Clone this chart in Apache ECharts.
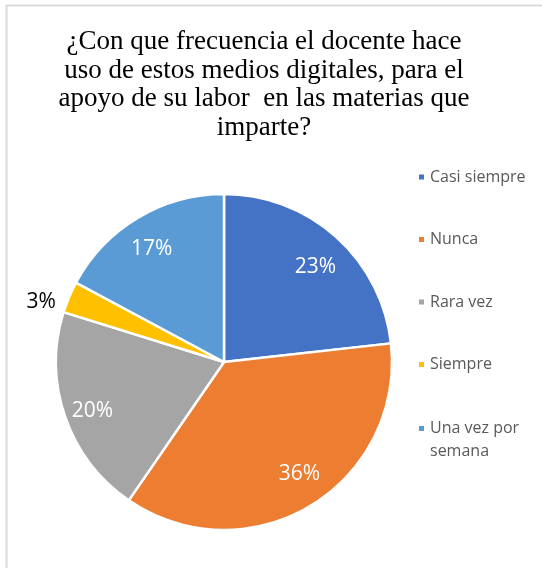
<!DOCTYPE html>
<html>
<head>
<meta charset="utf-8">
<script src="https://cdn.jsdelivr.net/npm/echarts@6/dist/echarts.min.js"></script>
<style>
  html, body { margin: 0; padding: 0; background: #fff; }
  #main { width: 542px; height: 568px; }
</style>
</head>
<body>
<div id="main"></div>
<script>
// datos de la encuesta (porcentajes)
const categorias = ['Casi siempre', 'Nunca', 'Rara vez', 'Siempre', 'Una vez por semana'];
const valores = [23, 36, 20, 3, 17];
const colores = ['#4472C4', '#ED7D31', '#A5A5A5', '#FFC000', '#5B9BD5'];
const titulo = '¿Con que frecuencia el docente hace\nuso de estos medios digitales, para el\napoyo de su labor  en las materias que\nimparte?';

const myChart = echarts.init(document.getElementById('main'));

const datos = categorias.map((c, i) => ({ name: c, value: valores[i] }));
// serie transparente solo para colocar las etiquetas a ~0.8 del radio
const datosEtiquetas = categorias.map((c, i) => {
  const d = { name: c, value: valores[i] };
  if (valores[i] < 5) {
    d.label = { position: 'outside', color: '#000' };
  }
  return d;
});

// pequeños ajustes de las etiquetas para parecerse a Excel
const ajustes = [[0, 7], [5, -6], [-2, 4], [3, 10], [-2, 5]];

const legendText = { color: '#595959', fontSize: 16, fontFamily: 'Open Sans', lineHeight: 20 };

const option = {
  color: colores,
  animation: false,
  graphic: [{
    type: 'rect',
    shape: { x: 6.5, y: 5.5, width: 600, height: 600 },
    style: { fill: 'none', stroke: '#d9d9d9', lineWidth: 2 },
    silent: true
  }],
  title: {
    text: titulo,
    left: 264,
    top: 28,
    padding: 0,
    textAlign: 'center',
    textStyle: {
      fontFamily: 'Liberation Serif',
      fontWeight: 'normal',
      fontSize: 27,
      lineHeight: 28.5,
      color: '#000'
    }
  },
  legend: [{
    orient: 'vertical',
    left: 417,
    top: 167,
    padding: 0,
    itemWidth: 7,
    itemHeight: 7,
    itemGap: 42.5,
    icon: 'rect',
    data: categorias.slice(0, 4),
    textStyle: legendText
  }, {
    orient: 'vertical',
    left: 417,
    top: 394,
    padding: 0,
    itemWidth: 7,
    itemHeight: 7,
    icon: 'rect',
    data: [categorias[4]],
    // línea vacía arriba para que el icono quede junto a la primera línea
    formatter: function (name) { return '\nUna vez por\nsemana'; },
    textStyle: Object.assign({}, legendText, { lineHeight: 23 })
  }],
  series: [{
    type: 'pie',
    center: [224, 362],
    radius: [0, 168],
    startAngle: 90,
    clockwise: true,
    data: datos,
    label: { show: false },
    labelLine: { show: false },
    itemStyle: { borderColor: '#fff', borderWidth: 2.5 }
  }, {
    type: 'pie',
    center: [224, 362],
    radius: [100, 168],
    startAngle: 90,
    clockwise: true,
    silent: true,
    data: datosEtiquetas,
    itemStyle: { color: 'transparent', borderWidth: 0 },
    label: {
      show: true,
      position: 'inside',
      formatter: '{c}%',
      color: '#fff',
      fontSize: 21,
      fontFamily: 'Open Sans'
    },
    labelLine: { show: false, length: 12, length2: 0 },
    labelLayout: function (params) {
      const a = ajustes[params.dataIndex];
      return { dx: a[0], dy: a[1] };
    }
  }]
};

myChart.setOption(option);
</script>
</body>
</html>
